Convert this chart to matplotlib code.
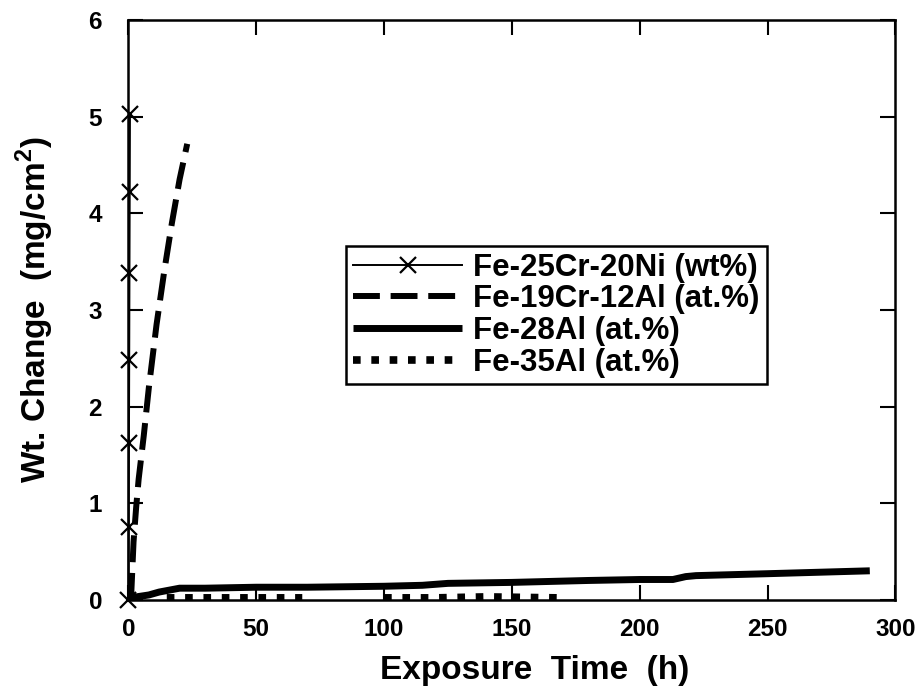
import matplotlib
matplotlib.use("Agg")
import matplotlib.pyplot as plt
import numpy as np

# ---- data ----
crni_x = [0.0, 0.1, 0.2, 0.3, 0.4, 0.5, 0.6]
crni_y = [0.0, 0.75, 1.62, 2.48, 3.38, 4.22, 5.03]

crAl_x = [1, 1.5, 2, 3, 4, 6, 8, 11, 14, 17, 20, 23]
crAl_y = [0.0, 0.3, 0.6, 0.95, 1.25, 1.7, 2.2, 2.85, 3.4, 3.9, 4.35, 4.72]

al28_x = [0, 3, 8, 12, 16, 20, 30, 50, 70, 100, 115, 125, 150, 180, 200, 213, 218, 222, 250, 290]
al28_y = [0.03, 0.03, 0.05, 0.08, 0.10, 0.12, 0.12, 0.13, 0.13, 0.14, 0.15, 0.17, 0.18, 0.20,
          0.21, 0.21, 0.24, 0.25, 0.27, 0.30]

al35_x = [15, 30, 45, 68, np.nan, 100, 120, 140, 168]
al35_y = [0.02, 0.02, 0.02, 0.02, np.nan, 0.02, 0.02, 0.03, 0.02]

labels = ["Fe-25Cr-20Ni (wt%)", "Fe-19Cr-12Al (at.%)", "Fe-28Al (at.%)", "Fe-35Al (at.%)"]
xticks = [0, 50, 100, 150, 200, 250, 300]
yticks = [0, 1, 2, 3, 4, 5, 6]

plt.rcParams['font.family'] = ['Liberation Sans', 'DejaVu Sans']
plt.rcParams['mathtext.fontset'] = 'custom'
plt.rcParams['mathtext.rm'] = 'Liberation Sans'
plt.rcParams['mathtext.bf'] = 'Liberation Sans:bold'

fig = plt.figure(figsize=(9.24, 6.95), dpi=100)
ax = fig.add_axes([0.139, 0.137, 0.830, 0.834])

ax.plot(crni_x, crni_y, color='black', lw=1.4, marker='x', ms=11, mew=1.6,
        label=labels[0], clip_on=False, zorder=5)
ax.plot(crAl_x, crAl_y, color='black', lw=4.3, dashes=(4.5, 1.8),
        dash_capstyle='butt', label=labels[1])
ax.plot(al28_x, al28_y, color='black', lw=5.0, solid_capstyle='butt', label=labels[2])
ax.plot(al35_x, al35_y, color='black', lw=5.5, dashes=(1.0, 1.4),
        dash_capstyle='butt', label=labels[3])

ax.set_xlim(0, 300)
ax.set_ylim(0, 6)
ax.set_xticks(xticks)
ax.set_yticks(yticks)
ax.tick_params(direction='in', length=11, width=1.5, top=True, right=True,
               labelsize=17.5)
ax.tick_params(axis='x', pad=13)
ax.tick_params(axis='y', pad=19)
for lab in ax.get_xticklabels() + ax.get_yticklabels():
    lab.set_fontweight('bold')
for s in ax.spines.values():
    s.set_linewidth(1.8)

ax.set_xlabel("Exposure  Time  (h)", fontsize=24, fontweight='bold')
ax.xaxis.set_label_coords(0.53, -0.095)
ax.set_ylabel(r"Wt. Change  (mg/cm$^{\mathbf{2}}$)", fontsize=24, fontweight='bold')
ax.yaxis.set_label_coords(-0.094, 0.5)

leg = ax.legend(loc='center', bbox_to_anchor=(0.558, 0.491),
                prop={'size': 22.5, 'weight': 'bold'},
                handlelength=3.5, handletextpad=0.35, labelspacing=0.05,
                borderpad=0.22, borderaxespad=0, fancybox=False, framealpha=1,
                edgecolor='black')
leg.get_frame().set_linewidth(1.8)

fig.savefig("out.png", dpi=100)
